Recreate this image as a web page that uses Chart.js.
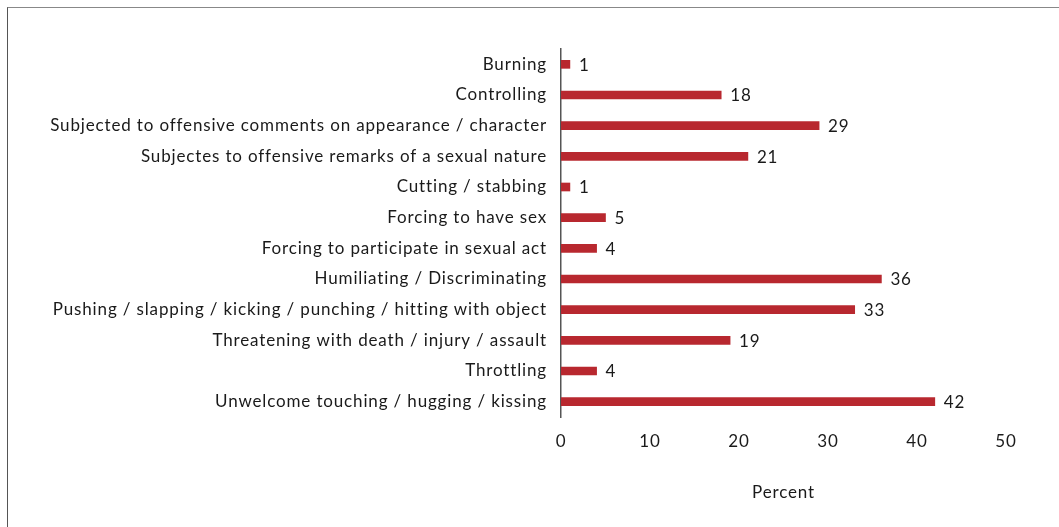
<!DOCTYPE html>
<html>
<head>
<meta charset="utf-8">
<script src="https://cdn.jsdelivr.net/npm/chart.js@4"></script>
<style>
    html, body { margin: 0; padding: 0; background: #fff; }
    .wrap { position: relative; width: 1059px; height: 527px; overflow: hidden; }
    .frame { position: absolute; left: 7px; top: 7px; width: 1100px; height: 600px;
             border-left: 1px solid #555; border-top: 1px solid #888; }
    canvas { position: absolute; left: 0; top: 0; }
</style>
</head>
<body>
<div class="wrap">
    <div class="frame"></div>
    <canvas id="chart" width="1059" height="527"></canvas>
</div>
<script>
const categories = [
    'Burning',
    'Controlling',
    'Subjected to offensive comments on appearance / character',
    'Subjectes to offensive remarks of a sexual nature',
    'Cutting / stabbing',
    'Forcing to have sex',
    'Forcing to participate in sexual act',
    'Humiliating / Discriminating',
    'Pushing / slapping / kicking / punching / hitting with object',
    'Threatening with death / injury / assault',
    'Throttling',
    'Unwelcome touching / hugging / kissing'
];
const percentValues = [1, 18, 29, 21, 1, 5, 4, 36, 33, 19, 4, 42];
const xTicks = [0, 10, 20, 30, 40, 50];

const FONT = 'Lato, "Open Sans", sans-serif';
const TEXT = '#1a1a1a';

// Avenir-like spacing, Lato alone is too narrow
const wideText = {
    id: 'wideText',
    beforeUpdate(chart) { chart.ctx.letterSpacing = '0.85px'; },
    beforeDraw(chart) { chart.ctx.letterSpacing = '0.85px'; }
};

// draws the number at the end of each bar
const valueLabels = {
    id: 'valueLabels',
    afterDatasetsDraw(chart) {
        const ctx = chart.ctx;
        const meta = chart.getDatasetMeta(0);
        ctx.save();
        ctx.font = '17px ' + FONT;
        ctx.fillStyle = TEXT;
        ctx.textAlign = 'left';
        ctx.textBaseline = 'middle';
        meta.data.forEach((bar, i) => {
            ctx.fillText(percentValues[i], bar.x + 9, bar.y + 1);
        });
        ctx.restore();
    }
};

new Chart(document.getElementById('chart'), {
    type: 'bar',
    data: {
        labels: categories,
        datasets: [{
            data: percentValues,
            backgroundColor: '#b8282f',
            barThickness: 8
        }]
    },
    options: {
        indexAxis: 'y',
        responsive: false,
        animation: false,
        layout: { padding: { left: 0, right: 53, top: 49, bottom: 0 } },
        plugins: {
            legend: { display: false },
            tooltip: { enabled: false }
        },
        scales: {
            y: {
                afterFit: (scale) => { scale.width = 561; },
                grid: { display: false, drawTicks: false },
                border: { display: true, color: '#555', width: 1.5 },
                ticks: { color: TEXT, font: { family: FONT, size: 17 }, padding: 14 }
            },
            x: {
                min: 0,
                max: 50,
                afterFit: (scale) => { scale.height = 110; },
                afterBuildTicks: (scale) => { scale.ticks = xTicks.map(v => ({ value: v })); },
                grid: { display: false, drawTicks: false },
                border: { display: false },
                ticks: { color: TEXT, font: { family: FONT, size: 17 }, padding: 14 },
                title: {
                    display: true,
                    text: 'Percent',
                    color: TEXT,
                    font: { family: FONT, size: 17 },
                    padding: { top: 0, bottom: 24 }
                }
            }
        }
    },
    plugins: [wideText, valueLabels]
});
</script>
</body>
</html>
